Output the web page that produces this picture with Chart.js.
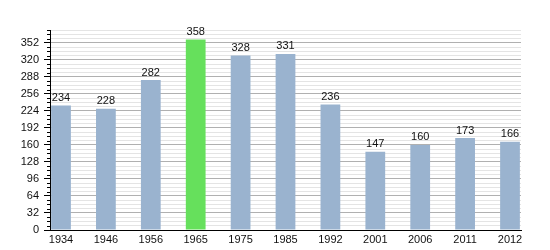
<!DOCTYPE html>
<html>
<head>
<meta charset="utf-8">
<script src="https://cdn.jsdelivr.net/npm/chart.js@4"></script>
<style>
  html, body { margin: 0; padding: 0; background: #fff; }
  #wrap { width: 550px; height: 250px; }
</style>
</head>
<body>
<div id="wrap"><canvas id="chart" width="550" height="250"></canvas></div>
<script>
const years = ["1934", "1946", "1956", "1965", "1975", "1985", "1992", "2001", "2006", "2011", "2012"];
const population = [234, 228, 282, 358, 328, 331, 236, 147, 160, 173, 166];
const highlightYear = "1965";
const yMax = 376;
const yMajorStep = 32;
const yMinorStep = 8;

const blue = "#9ab3cf";
const green = "#66e05c";

// petites graduations entre les grandes
const minorTicks = {
  id: "minorTicks",
  afterDraw(chart) {
    const y = chart.scales.y;
    const ctx = chart.ctx;
    ctx.save();
    ctx.strokeStyle = "#000";
    ctx.lineWidth = 1;
    for (let v = 0; v <= yMax; v += yMinorStep) {
      if (v % yMajorStep === 0) continue;
      const py = Math.round(y.getPixelForValue(v)) + 0.5;
      ctx.beginPath();
      ctx.moveTo(y.right - 3, py);
      ctx.lineTo(y.right, py);
      ctx.stroke();
    }
    ctx.restore();
  }
};

const valueLabels = {
  id: "valueLabels",
  afterDatasetsDraw(chart) {
    const ctx = chart.ctx;
    const meta = chart.getDatasetMeta(0);
    ctx.save();
    ctx.font = "11px 'Liberation Sans', Arial, sans-serif";
    ctx.fillStyle = "#111";
    ctx.textAlign = "center";
    ctx.textBaseline = "bottom";
    meta.data.forEach((bar, i) => {
      ctx.fillText(String(population[i]), bar.x, bar.y - 2);
    });
    ctx.restore();
  }
};

new Chart(document.getElementById("chart").getContext("2d"), {
  type: "bar",
  data: {
    datasets: [{
      data: population.map((v, i) => ({ x: i, y: v })),
      backgroundColor: years.map(y => y === highlightYear ? green : blue),
      barPercentage: 0.44,
      categoryPercentage: 1
    }]
  },
  options: {
    responsive: false,
    animation: false,
    layout: { padding: { top: 30, right: 29, left: 0, bottom: 0 } },
    plugins: { legend: { display: false }, tooltip: { enabled: false } },
    scales: {
      x: {
        type: "linear",
        offset: false,
        min: -0.245,
        max: years.length - 1 + 0.245,
        afterFit(scale) { scale.height = 20; },
        afterBuildTicks(scale) {
          scale.ticks = years.map((_, i) => ({ value: i }));
        },
        ticks: {
          autoSkip: false,
          maxRotation: 0,
          padding: 3,
          color: "#111",
          font: { family: "'Liberation Sans', Arial, sans-serif", size: 11 },
          callback: (v) => years[v]
        },
        grid: { display: false, drawTicks: false },
        border: { display: true, color: "#000", width: 1 }
      },
      y: {
        min: 0,
        max: yMax,
        afterFit(scale) { scale.width = 50; },
        ticks: {
          stepSize: yMinorStep,
          autoSkip: false,
          padding: 5,
          color: "#111",
          font: { family: "'Liberation Sans', Arial, sans-serif", size: 11 },
          callback: (v) => v % yMajorStep === 0 ? v : ""
        },
        grid: {
          tickLength: 6,
          color: (c) => c.tick && c.tick.value % yMajorStep === 0 ? "#b0b0b0" : "#e4e4e4",
          tickColor: (c) => c.tick && c.tick.value % yMajorStep === 0 ? "#000" : "rgba(0,0,0,0)"
        },
        border: { display: true, color: "#000", width: 1 }
      }
    }
  },
  plugins: [minorTicks, valueLabels]
});
</script>
</body>
</html>
